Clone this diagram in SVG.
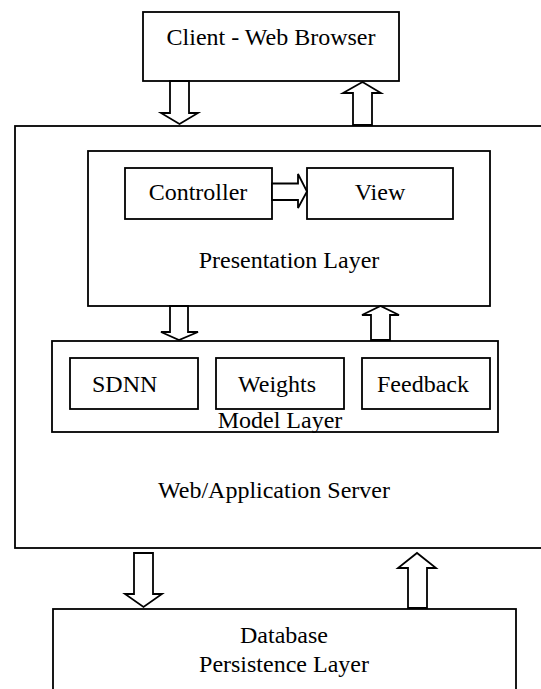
<svg xmlns="http://www.w3.org/2000/svg" width="541" height="689" viewBox="0 0 541 689">
<style>
.box{fill:#fff;stroke:#000;stroke-width:1.8}
.frame{fill:none;stroke:#000;stroke-width:1.8}
.arr{fill:#fff;stroke:#000;stroke-width:1.8;stroke-linejoin:miter}
text{font-family:"Liberation Serif","Times New Roman",serif;font-size:24px;fill:#000}
.c{text-anchor:middle}
</style>
<rect width="541" height="689" fill="#fff"/>
<g id="server"><rect class="box" x="15" y="126" width="530" height="422"/><text class="c" x="274" y="498">Web/Application Server</text></g>
<g id="client"><rect class="box" x="143" y="12" width="256" height="69"/><text class="c" x="271" y="45">Client - Web Browser</text></g>
<g id="presentation"><rect class="box" x="88" y="151" width="402" height="155"/><text class="c" x="289" y="268">Presentation Layer</text></g>
<g id="controller"><rect class="box" x="125" y="168" width="147" height="51"/><text class="c" x="198" y="200">Controller</text></g>
<g id="view"><rect class="box" x="307" y="168" width="146" height="51"/><text class="c" x="380" y="200">View</text></g>
<g id="model"><rect class="box" x="52" y="341" width="446" height="91"/><text class="c" x="280" y="428">Model Layer</text></g>
<g id="sdnn"><rect class="box" x="70" y="358" width="128" height="51"/><text x="92" y="392">SDNN</text></g>
<g id="weights"><rect class="box" x="216" y="358" width="128" height="51"/><text x="238" y="392">Weights</text></g>
<g id="feedback"><rect class="box" x="362" y="358" width="128" height="51"/><text x="377" y="392">Feedback</text></g>
<g id="database"><rect class="box" x="53" y="609" width="463" height="90"/><text class="c" x="284" y="643">Database</text><text class="c" x="284" y="672">Persistence Layer</text></g>
<g id="connectors">
<polygon class="arr" points="170,81 189,81 189,113 198,113 179.5,124 161,113 170,113"/>
<polygon class="arr" points="353,125 372,125 372,93 381,93 362.5,82 343,93 353,93"/>
<polygon class="arr" points="272,183.5 298,183.5 298,174 307,191.5 298,208 298,200 272,200"/>
<polygon class="arr" points="170,306 188,306 188,332 198,332 179,340 161,332 170,332"/>
<polygon class="arr" points="371,340 390,340 390,315 399,315 380.5,306 362,315 371,315"/>
<polygon class="arr" points="134,553 153,553 153,594 162,594 143.5,607 125,594 134,594"/>
<polygon class="arr" points="408,608 427,608 427,568 436,568 417,553 398,568 408,568"/>
</g>
</svg>
